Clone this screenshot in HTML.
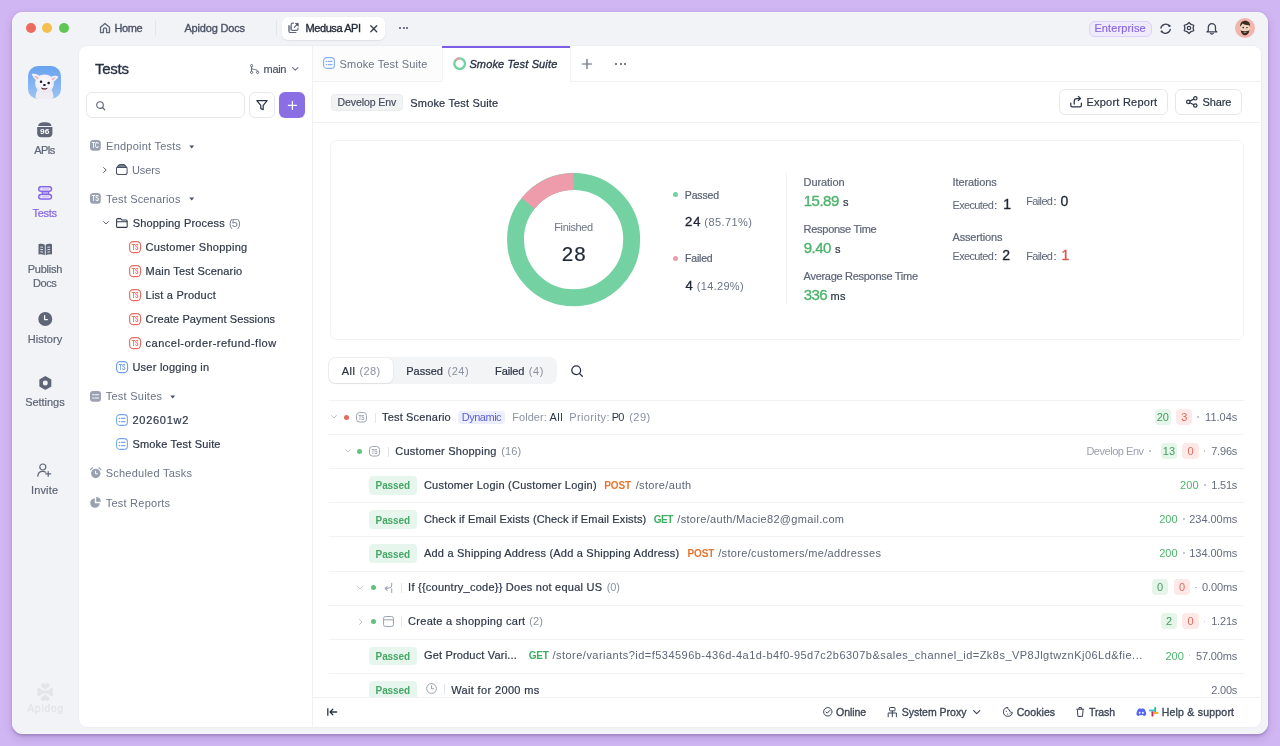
<!DOCTYPE html>
<html><head><meta charset="utf-8"><title>Apidog</title>
<style>
html,body{margin:0;padding:0;}
body{width:1280px;height:746px;overflow:hidden;position:relative;background:#d0b6f2;font-family:"Liberation Sans",sans-serif;}
.t{position:absolute;white-space:nowrap;line-height:1;}
.b{position:absolute;box-sizing:border-box;}
svg.b{overflow:visible;}
</style></head><body>
<div id="root" style="position:absolute;left:0;top:0;width:1280px;height:746px;will-change:transform;">
<div class="b" style="left:12px;top:12px;width:1256px;height:722px;background:#f2f3f7;border-radius:11px;box-shadow:0 1.5px 2.5px rgba(90,70,120,0.30), 0 4px 10px rgba(90,50,150,0.18), 0 0 0 0.5px rgba(255,255,255,0.6) inset;"></div>
<div class="b" style="left:79px;top:46px;width:1182px;height:681px;background:#fff;border-radius:8px;box-shadow:0 0 0 0.5px rgba(0,0,0,0.04);"></div>
<div class="b" style="left:25.6px;top:23.0px;width:10.4px;height:10.4px;border-radius:50%;background:#ed6a5e;"></div>
<div class="b" style="left:42.1px;top:23.0px;width:10.4px;height:10.4px;border-radius:50%;background:#f4bf4f;"></div>
<div class="b" style="left:58.6px;top:23.0px;width:10.4px;height:10.4px;border-radius:50%;background:#61c554;"></div>
<svg class="b" style="left:99.4px;top:22px;" width="12" height="12" viewBox="0 0 12 12" fill="none"><path d="M1.5 5.2 L6 1.4 L10.5 5.2 V10.6 H7.6 V7.4 a1.6 1.6 0 0 0 -3.2 0 V10.6 H1.5 Z" stroke="#5f6779" stroke-width="1.3" stroke-linejoin="round"/></svg>
<div class="t" style="left:114.60px;top:23.00px;font-size:11px;color:#4b5366;letter-spacing:-0.417px;-webkit-text-stroke:0.35px currentColor;">Home</div>
<div class="b" style="left:155px;top:20px;width:1px;height:16px;background:#e3e5ea;"></div>
<div class="t" style="left:184.40px;top:23.00px;font-size:11px;color:#4b5366;letter-spacing:-0.165px;-webkit-text-stroke:0.35px currentColor;">Apidog Docs</div>
<div class="b" style="left:276px;top:20px;width:1px;height:16px;background:#e3e5ea;"></div>
<div class="b" style="left:282px;top:17px;width:103px;height:23px;background:#fff;border-radius:6px;box-shadow:0 0.5px 1.5px rgba(0,0,0,0.08);"></div>
<svg class="b" style="left:288px;top:22px;" width="12" height="12" viewBox="0 0 12 12" fill="none"><path d="M0.9 3.6 H3.2 V8.4 H0.9 Z" fill="#b9bec9"/><path d="M0.9 3.6 V8.9 C0.9 9.8 1.6 10.5 2.5 10.5 H7.9" stroke="#5f6779" stroke-width="1.2" stroke-linecap="round"/><path d="M5.4 1.2 H4.8 C3.9 1.2 3.2 1.9 3.2 2.8 V6.9 C3.2 7.8 3.9 8.4 4.8 8.4 H8.5 C9.4 8.4 10 7.8 10 6.9 V6.2" stroke="#5f6779" stroke-width="1.2" stroke-linecap="round"/><path d="M6.3 5.3 L8.9 2.7" stroke="#5f6779" stroke-width="1.2" stroke-linecap="round"/><path d="M7.2 1.3 H10.3 V4.4 Z" fill="#4a5265" stroke="#4a5265" stroke-width="0.6" stroke-linejoin="round"/></svg>
<div class="t" style="left:305.50px;top:23.00px;font-size:11px;color:#1f2736;letter-spacing:-0.417px;-webkit-text-stroke:0.35px currentColor;">Medusa API</div>
<svg class="b" style="left:369.5px;top:24.5px;" width="7.5" height="7.5" viewBox="0 0 7.5 7.5" fill="none"><path d="M0.8 0.8 L6.7 6.7 M6.7 0.8 L0.8 6.7" stroke="#3a4252" stroke-width="1.4" stroke-linecap="round"/></svg>
<div class="b" style="left:399.0px;top:27px;width:2.2px;height:2.2px;border-radius:50%;background:#4b5366;"></div>
<div class="b" style="left:402.5px;top:27px;width:2.2px;height:2.2px;border-radius:50%;background:#4b5366;"></div>
<div class="b" style="left:406.0px;top:27px;width:2.2px;height:2.2px;border-radius:50%;background:#4b5366;"></div>
<div class="b" style="left:1088.5px;top:20.5px;width:63.5px;height:16px;background:#f0eafd;border:1px solid #ddd0fa;border-radius:6px;"></div>
<div class="t" style="left:1094.40px;top:23.00px;font-size:11px;color:#8a68e4;letter-spacing:0.128px;-webkit-text-stroke:0.2px currentColor;">Enterprise</div>
<svg class="b" style="left:1159.8px;top:22.8px;" width="11" height="11.5" viewBox="0 0 11 11.5" fill="none"><path d="M9.6 3 A4.9 4.9 0 0 0 0.9 5.2" stroke="#3a4252" stroke-width="1.3" stroke-linecap="round"/><path d="M1.6 8.4 A4.9 4.9 0 0 0 10.3 6.3" stroke="#3a4252" stroke-width="1.3" stroke-linecap="round"/><circle cx="9.4" cy="2.9" r="1.1" fill="#3a4252"/><circle cx="1.7" cy="8.5" r="1.1" fill="#3a4252"/></svg>
<svg class="b" style="left:1182.5px;top:22.2px;" width="12" height="12" viewBox="0 0 12 12" fill="none"><path d="M6.00 0.50 L8.05 2.45 L10.76 3.25 L10.10 6.00 L10.76 8.75 L8.05 9.55 L6.00 11.50 L3.95 9.55 L1.24 8.75 L1.90 6.00 L1.24 3.25 L3.95 2.45 Z" stroke="#3a4252" stroke-width="1.25" stroke-linejoin="round"/><circle cx="6" cy="6" r="1.7" stroke="#3a4252" stroke-width="1.2"/></svg>
<svg class="b" style="left:1206.2px;top:22px;" width="11.8" height="12.6" viewBox="0 0 11.8 12.6" fill="none"><path d="M2.3 8.6 V5.3 a3.6 3.6 0 0 1 7.2 0 V8.6 L10.9 9.9 H0.9 Z" stroke="#3a4252" stroke-width="1.25" stroke-linejoin="round"/><path d="M4.5 11.3 a1.5 1.2 0 0 0 2.8 0" stroke="#3a4252" stroke-width="1.25" stroke-linecap="round"/></svg>
<svg class="b" style="left:1235px;top:18px;" width="20" height="20" viewBox="0 0 20 20" fill="none"><circle cx="10" cy="10" r="10" fill="#f2b5ad"/><path d="M5.2 8.2 C5 4.5 7.5 3.2 10.2 3.3 C13.3 3.3 15.2 5 14.8 8.5 L14.6 12.5 C14 15.8 12 17 10 17 C7.8 17 6 15.8 5.5 12.5 Z" fill="#f0d6bf"/><path d="M5.2 8.8 C4.8 4.6 7.4 2.6 10.3 2.7 C13.4 2.8 15.6 4.6 15 9 L14.3 7.2 C12 7.4 9 6.6 7.6 5.6 C7 6.8 6.2 7.6 5.2 8.8 Z" fill="#3b2a20"/><path d="M5.6 11.8 C6.2 16 8 17.3 10 17.3 C12 17.3 14 16 14.5 11.8 C13.5 13.4 12 13 10 13 C8 13 6.6 13.4 5.6 11.8 Z" fill="#3b2a20"/><circle cx="8.2" cy="9.6" r="0.8" fill="#222"/><path d="M11 9.7 h1.8" stroke="#222" stroke-width="0.8"/><path d="M8.6 14.2 h2.8" stroke="#fff" stroke-width="0.7"/></svg>
<svg class="b" style="left:28.3px;top:66.2px;" width="33" height="33" viewBox="0 0 33 33" fill="none"><defs><linearGradient id="dg" x1="0" y1="0" x2="0" y2="1"><stop offset="0" stop-color="#68a2ee"/><stop offset="1" stop-color="#9cc3f4"/></linearGradient><radialGradient id="fur" cx="0.5" cy="0.4" r="0.6"><stop offset="0" stop-color="#fbfaff"/><stop offset="0.8" stop-color="#f1eef5"/><stop offset="1" stop-color="#e6e2ee"/></radialGradient><clipPath id="dc"><rect width="33" height="33" rx="10"/></clipPath></defs><rect width="33" height="33" rx="10" fill="url(#dg)"/><g clip-path="url(#dc)"><path d="M7.5 34 C7.5 29 8 26 10 23 L23 23 C25 26 25.5 29 25.5 34 Z" fill="#efecf3"/><path d="M3.6 8 C6.5 7.2 9.5 8 12 10.2 L11 16 C7.5 14.5 5 11.5 3.6 8 Z" fill="#f3f0f5"/><path d="M30.4 10.4 C27.6 9.4 24.6 9.6 22 11.4 L22.6 17 C26.2 15.8 28.8 13.6 30.4 10.4 Z" fill="#f3f0f5"/><path d="M16.6 8.6 C21.6 8.6 25.4 12 25.8 16.6 C26.2 21.6 23.4 26.6 16.6 26.8 C9.8 26.6 6.8 21.6 7.2 16.6 C7.6 12 11.6 8.6 16.6 8.6 Z" fill="url(#fur)"/><path d="M6.2 10 C7.8 9.8 9.4 10.4 10.6 11.6 L9.8 13.8 C8.4 12.8 7.1 11.5 6.2 10 Z" fill="#efb3c0"/><path d="M27.8 11.6 C26.4 11.2 24.9 11.5 23.8 12.4 L24.2 14.6 C25.6 13.8 26.9 12.8 27.8 11.6 Z" fill="#efb3c0"/><circle cx="13" cy="15.7" r="1.25" fill="#15151a"/><circle cx="20.6" cy="16.9" r="1.25" fill="#15151a"/><ellipse cx="16.4" cy="19" rx="1.45" ry="1.05" fill="#1a1a1f"/><path d="M12.9 21.6 C14 24.6 18.6 24.8 19.6 21.8 C17.6 22.6 14.8 22.5 12.9 21.6 Z" fill="#2a2226"/><path d="M14.4 22.4 C15 24.2 17.6 24.3 18.2 22.5 C16.9 22.8 15.6 22.8 14.4 22.4 Z" fill="#ee8aa0"/></g></svg>
<svg class="b" style="left:37.2px;top:122px;" width="15.6" height="15.6" viewBox="0 0 15.6 15.6" fill="none"><path d="M1.2 3.9 C1.2 1.6 3.3 0.2 7.8 0.2 C12.3 0.2 14.4 1.6 14.4 3.9 Z" fill="#5d6576"/><path d="M0.2 5 H15.4 V11.5 C15.4 13.8 13.8 15.3 11.5 15.3 H4.1 C1.8 15.3 0.2 13.8 0.2 11.5 Z" fill="#5d6576"/><text x="3.1" y="12.4" font-family="Liberation Sans" font-weight="bold" font-size="8" fill="#fff" textLength="9.3" lengthAdjust="spacingAndGlyphs">96</text></svg>
<div class="t" style="left:34.30px;top:145.00px;font-size:11px;color:#5d6576;letter-spacing:-0.750px;-webkit-text-stroke:0.2px currentColor;">APIs</div>
<svg class="b" style="left:37.8px;top:186.2px;" width="14.2" height="13.8" viewBox="0 0 14.2 13.8" fill="none"><path d="M3.9 4.9 H10.3 L11 9 H4.6 Z" fill="#b6a6f1"/><path d="M3.9 4.9 L4.6 9 M10.3 4.9 L11 9" stroke="#8463e6" stroke-width="1.2"/><rect x="0.75" y="0.75" width="12.7" height="4.5" rx="2.25" fill="#fff" stroke="#8463e6" stroke-width="1.5"/><rect x="0.75" y="8.55" width="12.7" height="4.5" rx="2.25" fill="#fff" stroke="#8463e6" stroke-width="1.5"/><rect x="2" y="2.3" width="1.2" height="1.4" fill="#c6baf4"/><rect x="3.9" y="2.3" width="7.6" height="1.4" fill="#c6baf4"/><rect x="2" y="10.1" width="1.2" height="1.4" fill="#c6baf4"/><rect x="3.9" y="10.1" width="7.6" height="1.4" fill="#c6baf4"/></svg>
<div class="t" style="left:32.50px;top:208.00px;font-size:11px;color:#8463e6;letter-spacing:-0.312px;-webkit-text-stroke:0.2px currentColor;">Tests</div>
<svg class="b" style="left:37.5px;top:242.5px;" width="14.5" height="12.5" viewBox="0 0 14.5 12.5" fill="none"><path d="M0.5 1.2 C2.8 0.6 5 0.8 6.8 1.8 V12.2 C5 11.3 2.8 11.1 0.5 11.6 Z" fill="#5d6576"/><path d="M14 1.2 C11.7 0.6 9.5 0.8 7.7 1.8 V12.2 C9.5 11.3 11.7 11.1 14 11.6 Z" fill="#5d6576"/><path d="M2.3 4 L5 4.3 M2.3 6.4 L5 6.7 M2.3 8.8 L5 9.1 M9.4 4.3 L12.1 4 M9.4 6.7 L12.1 6.4 M9.4 9.1 L12.1 8.8" stroke="#f2f3f7" stroke-width="0.9"/></svg>
<div class="t" style="left:27.80px;top:264.30px;font-size:11px;color:#5d6576;letter-spacing:-0.267px;-webkit-text-stroke:0.2px currentColor;">Publish</div>
<div class="t" style="left:33.10px;top:277.80px;font-size:11px;color:#5d6576;letter-spacing:-0.500px;-webkit-text-stroke:0.2px currentColor;">Docs</div>
<svg class="b" style="left:37.5px;top:312.3px;" width="14.5" height="14" viewBox="0 0 14.5 14" fill="none"><circle cx="7.25" cy="7" r="7" fill="#5d6576"/><path d="M6.6 3.6 V7.6 H9.4" stroke="#f2f3f7" stroke-width="1.3" stroke-linecap="round" stroke-linejoin="round"/></svg>
<div class="t" style="left:27.80px;top:334.40px;font-size:11px;color:#5d6576;letter-spacing:0.025px;-webkit-text-stroke:0.2px currentColor;">History</div>
<svg class="b" style="left:38.8px;top:375.7px;" width="12.7" height="13.8" viewBox="0 0 12.7 13.8" fill="none"><path d="M6.35 0.8 L11.6 3.8 V10 L6.35 13 L1.1 10 V3.8 Z" fill="#5d6576" stroke="#5d6576" stroke-width="1.5" stroke-linejoin="round"/><circle cx="6.35" cy="6.9" r="2.5" fill="#f2f3f7"/></svg>
<div class="t" style="left:25.20px;top:397.30px;font-size:11px;color:#5d6576;letter-spacing:-0.036px;-webkit-text-stroke:0.2px currentColor;">Settings</div>
<svg class="b" style="left:37.3px;top:462.5px;" width="14.5" height="14" viewBox="0 0 14.5 14" fill="none"><circle cx="5.8" cy="4" r="3" stroke="#5d6576" stroke-width="1.2"/><path d="M0.8 13.2 C1 9.8 3 8.4 5.8 8.4 C7 8.4 8 8.7 8.7 9.2" stroke="#5d6576" stroke-width="1.2" stroke-linecap="round"/><path d="M11.2 8.5 V13.3 M8.8 10.9 H13.6" stroke="#5d6576" stroke-width="1.2" stroke-linecap="round"/></svg>
<div class="t" style="left:31.00px;top:484.70px;font-size:11px;color:#5d6576;letter-spacing:0.150px;-webkit-text-stroke:0.2px currentColor;">Invite</div>
<svg class="b" style="left:36.9px;top:683.8px;" width="16.3" height="16.2" viewBox="0 0 16.3 16.2" fill="none"><g fill="#e3e4e9"><path d="M8.15 5.6 L4.6 3 A2.15 2.15 0 1 1 8.15 0.9 A2.15 2.15 0 1 1 11.7 3 Z"/><path d="M8.15 10.6 L4.6 13.2 A2.15 2.15 0 1 0 8.15 15.3 A2.15 2.15 0 1 0 11.7 13.2 Z"/><path d="M1.6 4.6 Q8.15 9.4 14.7 4.6 L15.6 6.8 Q13.6 8.1 15.6 9.4 L14.7 11.6 Q8.15 6.8 1.6 11.6 L0.7 9.4 Q2.7 8.1 0.7 6.8 Z"/><circle cx="1.9" cy="5.9" r="1.85"/><circle cx="1.9" cy="10.3" r="1.85"/><circle cx="14.4" cy="5.9" r="1.85"/><circle cx="14.4" cy="10.3" r="1.85"/></g></svg>
<div class="t" style="left:27.50px;top:704.00px;font-size:10px;color:#e3e4e9;letter-spacing:0.870px;-webkit-text-stroke:0.35px currentColor;">Apidog</div>
<div class="b" style="left:312px;top:46px;width:1px;height:681px;background:#eff1f4;"></div>
<div class="t" style="left:94.90px;top:61.20px;font-size:15px;color:#2b3445;letter-spacing:-0.250px;-webkit-text-stroke:0.35px currentColor;">Tests</div>
<svg class="b" style="left:250px;top:64px;" width="9" height="10" viewBox="0 0 9 10" fill="none"><circle cx="1.6" cy="1.6" r="1.1" stroke="#5d6576" stroke-width="1"/><circle cx="1.6" cy="8.4" r="1.1" stroke="#5d6576" stroke-width="1"/><circle cx="7.6" cy="8.4" r="1.1" stroke="#5d6576" stroke-width="1"/><path d="M1.6 2.7 V7.3 M1.6 4.2 C1.6 5.8 7.6 5 7.6 7.3" stroke="#5d6576" stroke-width="1"/></svg>
<div class="t" style="left:263.60px;top:63.70px;font-size:11px;color:#4b5366;letter-spacing:-0.350px;-webkit-text-stroke:0.2px currentColor;">main</div>
<svg class="b" style="left:292px;top:67px;" width="6.5" height="4" viewBox="0 0 6.5 4" fill="none"><path d="M0.6 0.6 L3.25 3.2 L5.9 0.6" stroke="#6b7385" stroke-width="1.1" stroke-linecap="round" stroke-linejoin="round"/></svg>
<div class="b" style="left:86.3px;top:92.2px;width:158.5px;height:26.3px;border:1px solid #e6e8ec;border-radius:6px;background:#fff;"></div>
<svg class="b" style="left:96.3px;top:101.3px;" width="9.5" height="9.5" viewBox="0 0 9.5 9.5" fill="none"><circle cx="4" cy="4" r="3.3" stroke="#5d6576" stroke-width="1.15"/><path d="M6.5 6.5 L8.8 8.8" stroke="#5d6576" stroke-width="1.15" stroke-linecap="round"/></svg>
<div class="b" style="left:248.6px;top:92.2px;width:26px;height:26.3px;border:1px solid #e6e8ec;border-radius:6px;background:#fff;"></div>
<svg class="b" style="left:255.8px;top:100.4px;" width="12" height="10.2" viewBox="0 0 12 10.2" fill="none"><path d="M0.8 0.7 H11.2 L7.2 5.4 V9.6 L4.8 8.6 V5.4 Z" stroke="#2b3445" stroke-width="1.2" stroke-linejoin="round"/></svg>
<div class="b" style="left:278.8px;top:92.2px;width:26px;height:26.3px;border-radius:6px;background:#8a6ee4;"></div>
<svg class="b" style="left:287.5px;top:101.4px;" width="8.8" height="8.8" viewBox="0 0 8.8 8.8" fill="none"><path d="M4.4 0.4 V8.4 M0.4 4.4 H8.4" stroke="#fff" stroke-width="1.2" stroke-linecap="round"/></svg>
<svg class="b" style="left:90.2px;top:140.1px;" width="10.8" height="10.8" viewBox="0 0 10.8 10.8" fill="none"><rect x="0" y="0" width="10.8" height="10.8" rx="3.24" fill="#9aa1b0"/><text x="1.84" y="8.21" font-family="Liberation Sans" font-weight="bold" font-size="8.14" fill="#fff" textLength="7.13" lengthAdjust="spacingAndGlyphs">TC</text></svg>
<div class="t" style="left:106.10px;top:140.80px;font-size:11px;color:#6b7385;letter-spacing:0.231px;">Endpoint Tests</div>
<svg class="b" style="left:189px;top:144.6px;" width="5.5" height="4" viewBox="0 0 5.5 4" fill="none"><path d="M0.3 0.5 H5.2 L2.75 3.5 Z" fill="#4b5366"/></svg>
<svg class="b" style="left:103.4px;top:166.8px;" width="4" height="6" viewBox="0 0 4 6" fill="none"><path d="M0.6 0.6 L3.2 3 L0.6 5.4" stroke="#5d6576" stroke-width="1" stroke-linecap="round" stroke-linejoin="round"/></svg>
<svg class="b" style="left:116px;top:164px;" width="11.6" height="11.2" viewBox="0 0 11.6 11.2" fill="none"><path d="M3.8 0.6 H7.8 C8.2 0.6 8.5 0.8 8.8 1.1 L10.7 3.3 C11 3.7 11.1 4.2 11.1 4.8 V8.4 C11.1 9.7 10.2 10.6 8.9 10.6 H2.7 C1.4 10.6 0.5 9.7 0.5 8.4 V4.8 C0.5 4.2 0.6 3.7 0.9 3.3 L2.8 1.1 C3.1 0.8 3.4 0.6 3.8 0.6 Z M1 3.4 H10.6 M2.4 1.9 H9.2" stroke="#4b5366" stroke-width="1.05" stroke-linejoin="round"/></svg>
<div class="t" style="left:131.90px;top:164.90px;font-size:11px;color:#6b7385;letter-spacing:-0.062px;">Users</div>
<svg class="b" style="left:89.8px;top:193.3px;" width="10.8" height="10.8" viewBox="0 0 10.8 10.8" fill="none"><rect x="0" y="0" width="10.8" height="10.8" rx="3.24" fill="#9aa1b0"/><text x="1.84" y="8.21" font-family="Liberation Sans" font-weight="bold" font-size="8.14" fill="#fff" textLength="7.13" lengthAdjust="spacingAndGlyphs">TS</text></svg>
<div class="t" style="left:106.10px;top:193.50px;font-size:11px;color:#6b7385;letter-spacing:0.165px;">Test Scenarios</div>
<svg class="b" style="left:189px;top:197.2px;" width="5.5" height="4" viewBox="0 0 5.5 4" fill="none"><path d="M0.3 0.5 H5.2 L2.75 3.5 Z" fill="#4b5366"/></svg>
<svg class="b" style="left:102.6px;top:220.6px;" width="6" height="4" viewBox="0 0 6 4" fill="none"><path d="M0.6 0.6 L3 3 L5.4 0.6" stroke="#5d6576" stroke-width="1" stroke-linecap="round" stroke-linejoin="round"/></svg>
<svg class="b" style="left:116.2px;top:218.2px;" width="12.2" height="10" viewBox="0 0 12.2 10" fill="none"><path d="M0.6 8.4 V1.8 C0.6 1.1 1.1 0.6 1.8 0.6 H4.6 L5.8 2 H10 C10.7 2 11.2 2.5 11.2 3.2 V8.4 C11.2 9 10.7 9.4 10 9.4 H1.8 C1.1 9.4 0.6 9 0.6 8.4 Z M0.6 3.8 H11.2" stroke="#2e3748" stroke-width="1.05" stroke-linejoin="round"/></svg>
<div class="t" style="left:132.70px;top:218.20px;font-size:11px;color:#2e3748;letter-spacing:0.183px;-webkit-text-stroke:0.2px currentColor;">Shopping Process</div>
<div class="t" style="left:229.10px;top:218.20px;font-size:11px;color:#7a8192;letter-spacing:-0.900px;">(5)</div>
<svg class="b" style="left:129.3px;top:241.0px;" width="12.2" height="12.2" viewBox="0 0 12.2 12.2" fill="none"><rect x="0.6" y="0.6" width="11.0" height="11.0" rx="3.66" stroke="#e56e63" stroke-width="1.15"/><text x="2.68" y="8.97" font-family="Liberation Sans" font-weight="bold" font-size="8.31" fill="#e56e63" textLength="6.83" lengthAdjust="spacingAndGlyphs">TS</text></svg>
<div class="t" style="left:145.60px;top:242.10px;font-size:11px;color:#2e3748;letter-spacing:0.272px;-webkit-text-stroke:0.2px currentColor;">Customer Shopping</div>
<svg class="b" style="left:129.3px;top:265.0px;" width="12.2" height="12.2" viewBox="0 0 12.2 12.2" fill="none"><rect x="0.6" y="0.6" width="11.0" height="11.0" rx="3.66" stroke="#e56e63" stroke-width="1.15"/><text x="2.68" y="8.97" font-family="Liberation Sans" font-weight="bold" font-size="8.31" fill="#e56e63" textLength="6.83" lengthAdjust="spacingAndGlyphs">TS</text></svg>
<div class="t" style="left:145.60px;top:266.10px;font-size:11px;color:#2e3748;letter-spacing:0.191px;-webkit-text-stroke:0.2px currentColor;">Main Test Scenario</div>
<svg class="b" style="left:129.3px;top:288.9px;" width="12.2" height="12.2" viewBox="0 0 12.2 12.2" fill="none"><rect x="0.6" y="0.6" width="11.0" height="11.0" rx="3.66" stroke="#e56e63" stroke-width="1.15"/><text x="2.68" y="8.97" font-family="Liberation Sans" font-weight="bold" font-size="8.31" fill="#e56e63" textLength="6.83" lengthAdjust="spacingAndGlyphs">TS</text></svg>
<div class="t" style="left:145.60px;top:290.00px;font-size:11px;color:#2e3748;letter-spacing:0.219px;-webkit-text-stroke:0.2px currentColor;">List a Product</div>
<svg class="b" style="left:129.3px;top:312.9px;" width="12.2" height="12.2" viewBox="0 0 12.2 12.2" fill="none"><rect x="0.6" y="0.6" width="11.0" height="11.0" rx="3.66" stroke="#e56e63" stroke-width="1.15"/><text x="2.68" y="8.97" font-family="Liberation Sans" font-weight="bold" font-size="8.31" fill="#e56e63" textLength="6.83" lengthAdjust="spacingAndGlyphs">TS</text></svg>
<div class="t" style="left:145.60px;top:314.00px;font-size:11px;color:#2e3748;letter-spacing:0.107px;-webkit-text-stroke:0.2px currentColor;">Create Payment Sessions</div>
<svg class="b" style="left:129.3px;top:336.9px;" width="12.2" height="12.2" viewBox="0 0 12.2 12.2" fill="none"><rect x="0.6" y="0.6" width="11.0" height="11.0" rx="3.66" stroke="#e56e63" stroke-width="1.15"/><text x="2.68" y="8.97" font-family="Liberation Sans" font-weight="bold" font-size="8.31" fill="#e56e63" textLength="6.83" lengthAdjust="spacingAndGlyphs">TS</text></svg>
<div class="t" style="left:145.60px;top:338.00px;font-size:11px;color:#2e3748;letter-spacing:0.493px;-webkit-text-stroke:0.2px currentColor;">cancel-order-refund-flow</div>
<svg class="b" style="left:116.1px;top:360.9px;" width="12.2" height="12.2" viewBox="0 0 12.2 12.2" fill="none"><rect x="0.6" y="0.6" width="11.0" height="11.0" rx="3.66" stroke="#6f9ff0" stroke-width="1.15"/><text x="2.68" y="8.97" font-family="Liberation Sans" font-weight="bold" font-size="8.31" fill="#6f9ff0" textLength="6.83" lengthAdjust="spacingAndGlyphs">TS</text></svg>
<div class="t" style="left:132.40px;top:362.00px;font-size:11px;color:#2e3748;letter-spacing:0.243px;-webkit-text-stroke:0.2px currentColor;">User logging in</div>
<svg class="b" style="left:89.8px;top:391px;" width="11" height="10.8" viewBox="0 0 11 10.8" fill="none"><rect x="0" y="0" width="11" height="10.8" rx="3" fill="#9aa1b0"/><path d="M2.6 3.8 h1 M4.8 3.8 h3.8 M2.6 7 h1 M4.8 7 h3.8" stroke="#fff" stroke-width="1.1" stroke-linecap="round"/></svg>
<div class="t" style="left:105.70px;top:391.20px;font-size:11px;color:#6b7385;letter-spacing:0.255px;">Test Suites</div>
<svg class="b" style="left:170.2px;top:394.8px;" width="5.5" height="4" viewBox="0 0 5.5 4" fill="none"><path d="M0.3 0.5 H5.2 L2.75 3.5 Z" fill="#4b5366"/></svg>
<svg class="b" style="left:116.2px;top:413.6px;" width="12" height="12" viewBox="0 0 12 12" fill="none"><rect x="0.6" y="0.6" width="10.8" height="10.8" rx="3.2" stroke="#7aa7f2" stroke-width="1.1"/><path d="M3.2 4.4 h0.6 M5.4 4.4 h3.6 M3.2 7.6 h0.6 M5.4 7.6 h3.6" stroke="#7aa7f2" stroke-width="1.1" stroke-linecap="round"/></svg>
<div class="t" style="left:132.40px;top:415.20px;font-size:11px;color:#2e3748;letter-spacing:0.750px;-webkit-text-stroke:0.2px currentColor;">202601w2</div>
<svg class="b" style="left:116.2px;top:437.8px;" width="12" height="12" viewBox="0 0 12 12" fill="none"><rect x="0.6" y="0.6" width="10.8" height="10.8" rx="3.2" stroke="#7aa7f2" stroke-width="1.1"/><path d="M3.2 4.4 h0.6 M5.4 4.4 h3.6 M3.2 7.6 h0.6 M5.4 7.6 h3.6" stroke="#7aa7f2" stroke-width="1.1" stroke-linecap="round"/></svg>
<div class="t" style="left:132.40px;top:439.40px;font-size:11px;color:#2e3748;letter-spacing:0.180px;-webkit-text-stroke:0.2px currentColor;">Smoke Test Suite</div>
<svg class="b" style="left:89.6px;top:467.2px;" width="11" height="11.5" viewBox="0 0 11 11.5" fill="none"><circle cx="5.75" cy="6.5" r="4.7" fill="#9aa1b0"/><path d="M0.6 2.6 L2.6 0.8 M10.9 2.6 L8.9 0.8" stroke="#9aa1b0" stroke-width="1.2" stroke-linecap="round"/><path d="M5.6 4.2 V6.8 H7.4" stroke="#fff" stroke-width="1" stroke-linecap="round"/></svg>
<div class="t" style="left:105.70px;top:468.40px;font-size:11px;color:#6b7385;letter-spacing:0.236px;">Scheduled Tasks</div>
<svg class="b" style="left:89.8px;top:497px;" width="11" height="11" viewBox="0 0 11 11" fill="none"><path d="M4.8 1.2 A4.8 4.8 0 1 0 9.8 6.2 H4.8 Z" fill="#9aa1b0"/><path d="M6.2 0 A4.8 4.8 0 0 1 11 4.8 H6.2 Z" fill="#9aa1b0"/></svg>
<div class="t" style="left:105.70px;top:497.90px;font-size:11px;color:#6b7385;letter-spacing:0.241px;">Test Reports</div>
<div class="b" style="left:313px;top:81px;width:129.5px;height:1px;background:#f0f1f4;"></div>
<div class="b" style="left:570px;top:81px;width:691px;height:1px;background:#f0f1f4;"></div>
<div class="b" style="left:313px;top:46px;width:129.5px;height:35px;background:#fcfcfd;"></div>
<div class="b" style="left:442px;top:46px;width:128.5px;height:36px;background:#fff;border-left:1px solid #f2f3f6;border-right:1px solid #f2f3f6;"></div>
<div class="b" style="left:442px;top:46px;width:128px;height:2px;background:#7b5de8;"></div>
<svg class="b" style="left:323.2px;top:57.3px;" width="12" height="12" viewBox="0 0 12 12" fill="none"><rect x="0.6" y="0.6" width="10.8" height="10.8" rx="3.2" stroke="#86aff5" stroke-width="1.1"/><path d="M3.2 4.4 h0.6 M5.4 4.4 h3.6 M3.2 7.6 h0.6 M5.4 7.6 h3.6" stroke="#86aff5" stroke-width="1.1" stroke-linecap="round"/></svg>
<div class="t" style="left:339.60px;top:59.00px;font-size:11px;color:#6b7385;letter-spacing:0.160px;">Smoke Test Suite</div>
<svg class="b" style="left:452.5px;top:57.3px;" width="13.3" height="13.3" viewBox="0 0 13.3 13.3" fill="none"><circle cx="6.65" cy="6.65" r="5.3" stroke="#6fd19e" stroke-width="2.3"/><path d="M6.65 1.35 A5.3 5.3 0 0 0 2.51 3.35" stroke="#ee9aa8" stroke-width="2.3"/></svg>
<div class="t" style="left:469.40px;top:59.00px;font-size:11px;color:#2b3445;font-style:italic;letter-spacing:0.137px;-webkit-text-stroke:0.35px currentColor;">Smoke Test Suite</div>
<svg class="b" style="left:582.4px;top:59px;" width="10" height="10" viewBox="0 0 10 10" fill="none"><path d="M5 0.4 V9.6 M0.4 5 H9.6" stroke="#5d6576" stroke-width="1.2" stroke-linecap="round"/></svg>
<div class="b" style="left:615.1px;top:62.6px;width:2.3px;height:2.3px;border-radius:50%;background:#4b5366;"></div>
<div class="b" style="left:619.5px;top:62.6px;width:2.3px;height:2.3px;border-radius:50%;background:#4b5366;"></div>
<div class="b" style="left:623.9px;top:62.6px;width:2.3px;height:2.3px;border-radius:50%;background:#4b5366;"></div>
<div class="b" style="left:331.3px;top:93.5px;width:71.3px;height:17.5px;background:#f2f3f5;border:1px solid #e9ebee;border-radius:4px;"></div>
<div class="t" style="left:337.60px;top:97.20px;font-size:10.5px;color:#464e5f;letter-spacing:-0.100px;-webkit-text-stroke:0.2px currentColor;">Develop Env</div>
<div class="t" style="left:410.30px;top:97.50px;font-size:11px;color:#2b3445;letter-spacing:0.167px;-webkit-text-stroke:0.2px currentColor;">Smoke Test Suite</div>
<div class="b" style="left:1058.5px;top:89px;width:109px;height:26.3px;border:1px solid #e6e8ec;border-radius:6px;background:#fff;"></div>
<svg class="b" style="left:1070px;top:96.2px;" width="12.2" height="11.8" viewBox="0 0 12.2 11.8" fill="none"><path d="M0.8 7.1 V9.4 C0.8 10.2 1.4 10.8 2.2 10.8 H10 C10.8 10.8 11.4 10.2 11.4 9.4 V7.1" stroke="#2b3445" stroke-width="1.25" stroke-linecap="round"/><path d="M4.2 8.1 V5.3 C4.2 3.5 5 2.5 7 2.5 H10.4 M8.3 0.4 L10.5 2.5 L8.3 4.6" stroke="#2b3445" stroke-width="1.25" stroke-linecap="round" stroke-linejoin="round"/></svg>
<div class="t" style="left:1086.40px;top:97.20px;font-size:11px;color:#2b3445;letter-spacing:0.237px;-webkit-text-stroke:0.2px currentColor;">Export Report</div>
<div class="b" style="left:1174.7px;top:89px;width:67.6px;height:26.3px;border:1px solid #e6e8ec;border-radius:6px;background:#fff;"></div>
<svg class="b" style="left:1186.2px;top:96.2px;" width="11.6" height="11.8" viewBox="0 0 11.6 11.8" fill="none"><circle cx="9.3" cy="2.3" r="1.7" stroke="#2b3445" stroke-width="1.2"/><circle cx="2.3" cy="5.9" r="1.7" stroke="#2b3445" stroke-width="1.2"/><circle cx="9.3" cy="9.5" r="1.7" stroke="#2b3445" stroke-width="1.2"/><path d="M3.8 5.1 L7.8 3.1 M3.8 6.7 L7.8 8.7" stroke="#2b3445" stroke-width="1.2"/></svg>
<div class="t" style="left:1202.60px;top:97.20px;font-size:11px;color:#2b3445;letter-spacing:-0.138px;-webkit-text-stroke:0.2px currentColor;">Share</div>
<div class="b" style="left:313px;top:122px;width:947px;height:1px;background:#eff1f4;"></div>
<div class="b" style="left:329.5px;top:139.5px;width:914px;height:200.3px;border:1px solid #f2f3f6;border-radius:7px;"></div>
<svg class="b" style="left:506.7px;top:173.2px;" width="133.2" height="133.2" viewBox="0 0 133.2 133.2" fill="none"><circle cx="66.6" cy="66.6" r="58.1" stroke="#74d1a1" stroke-width="16.9"/><path d="M66.6 8.5 A58.1 58.1 0 0 0 21.18 30.37" stroke="#ee9cab" stroke-width="16.9"/></svg>
<div class="t" style="left:554.30px;top:221.50px;font-size:11px;color:#6b7385;letter-spacing:-0.400px;">Finished</div>
<div class="t" style="left:561.80px;top:243.50px;font-size:20.5px;color:#1f2736;letter-spacing:0.950px;-webkit-text-stroke:0.2px currentColor;">28</div>
<div class="b" style="left:673.3px;top:192px;width:5px;height:5px;border-radius:50%;background:#74d1a1;"></div>
<div class="t" style="left:684.80px;top:189.60px;font-size:10.5px;color:#596174;letter-spacing:-0.160px;-webkit-text-stroke:0.2px currentColor;">Passed</div>
<div class="t" style="left:685.00px;top:214.80px;font-size:13px;color:#1f2736;letter-spacing:0.900px;-webkit-text-stroke:0.35px currentColor;">24</div>
<div class="t" style="left:704.30px;top:216.80px;font-size:11px;color:#6b7385;letter-spacing:0.421px;">(85.71%)</div>
<div class="b" style="left:673.3px;top:256px;width:5px;height:5px;border-radius:50%;background:#ee9cab;"></div>
<div class="t" style="left:685.00px;top:253.40px;font-size:10.5px;color:#596174;letter-spacing:-0.180px;-webkit-text-stroke:0.2px currentColor;">Failed</div>
<div class="t" style="left:685.40px;top:278.60px;font-size:13px;color:#1f2736;-webkit-text-stroke:0.35px currentColor;">4</div>
<div class="t" style="left:696.80px;top:280.60px;font-size:11px;color:#6b7385;letter-spacing:0.307px;">(14.29%)</div>
<div class="b" style="left:786px;top:173px;width:1px;height:131px;background:#eff1f4;"></div>
<div class="t" style="left:803.60px;top:177.30px;font-size:11px;color:#5d6576;letter-spacing:-0.086px;-webkit-text-stroke:0.2px currentColor;">Duration</div>
<div class="t" style="left:803.80px;top:192.70px;font-size:15px;color:#4cb36b;letter-spacing:-0.525px;-webkit-text-stroke:0.35px currentColor;">15.89</div>
<div class="t" style="left:843.00px;top:196.70px;font-size:11px;color:#2b3445;-webkit-text-stroke:0.2px currentColor;">s</div>
<div class="t" style="left:803.60px;top:224.20px;font-size:11px;color:#5d6576;letter-spacing:-0.283px;-webkit-text-stroke:0.2px currentColor;">Response Time</div>
<div class="t" style="left:803.80px;top:240.00px;font-size:15px;color:#4cb36b;letter-spacing:-0.550px;-webkit-text-stroke:0.35px currentColor;">9.40</div>
<div class="t" style="left:835.00px;top:244.00px;font-size:11px;color:#2b3445;-webkit-text-stroke:0.2px currentColor;">s</div>
<div class="t" style="left:803.60px;top:271.20px;font-size:11px;color:#5d6576;letter-spacing:-0.292px;-webkit-text-stroke:0.2px currentColor;">Average Response Time</div>
<div class="t" style="left:803.80px;top:286.60px;font-size:15px;color:#4cb36b;letter-spacing:-0.600px;-webkit-text-stroke:0.35px currentColor;">336</div>
<div class="t" style="left:830.60px;top:290.60px;font-size:11px;color:#2b3445;letter-spacing:0.250px;-webkit-text-stroke:0.2px currentColor;">ms</div>
<div class="t" style="left:952.50px;top:177.30px;font-size:11px;color:#5d6576;letter-spacing:-0.117px;-webkit-text-stroke:0.2px currentColor;">Iterations</div>
<div class="t" style="left:952.50px;top:200.00px;font-size:11px;color:#5d6576;letter-spacing:-0.650px;">Executed</div>
<div class="t" style="left:994.30px;top:200.00px;font-size:11px;color:#2b3445;">:</div>
<div class="t" style="left:1003.20px;top:197.00px;font-size:14px;color:#1f2736;-webkit-text-stroke:0.35px currentColor;">1</div>
<div class="t" style="left:1026.30px;top:196.20px;font-size:11px;color:#5d6576;letter-spacing:-0.660px;">Failed</div>
<div class="t" style="left:1053.50px;top:196.20px;font-size:11px;color:#2b3445;">:</div>
<div class="t" style="left:1060.50px;top:193.50px;font-size:14px;color:#1f2736;-webkit-text-stroke:0.35px currentColor;">0</div>
<div class="t" style="left:952.50px;top:231.70px;font-size:11px;color:#5d6576;letter-spacing:-0.161px;-webkit-text-stroke:0.2px currentColor;">Assertions</div>
<div class="t" style="left:952.50px;top:250.70px;font-size:11px;color:#5d6576;letter-spacing:-0.650px;">Executed</div>
<div class="t" style="left:994.30px;top:250.70px;font-size:11px;color:#2b3445;">:</div>
<div class="t" style="left:1002.20px;top:247.70px;font-size:14px;color:#1f2736;-webkit-text-stroke:0.35px currentColor;">2</div>
<div class="t" style="left:1026.30px;top:250.70px;font-size:11px;color:#5d6576;letter-spacing:-0.660px;">Failed</div>
<div class="t" style="left:1053.50px;top:250.70px;font-size:11px;color:#2b3445;">:</div>
<div class="t" style="left:1061.50px;top:247.90px;font-size:14px;color:#e2564b;-webkit-text-stroke:0.35px currentColor;">1</div>
<div class="b" style="left:328.3px;top:356.7px;width:228.7px;height:27px;background:#f3f4f6;border-radius:7px;"></div>
<div class="b" style="left:329.4px;top:357.6px;width:63.7px;height:25.4px;background:#fff;border-radius:6px;box-shadow:0 0 0 0.5px rgba(0,0,0,0.06), 0 1px 1.5px rgba(0,0,0,0.06);"></div>
<div class="t" style="left:341.70px;top:365.80px;font-size:11px;color:#2b3445;letter-spacing:0.475px;-webkit-text-stroke:0.2px currentColor;">All</div>
<div class="t" style="left:359.40px;top:365.80px;font-size:11px;color:#8a91a0;letter-spacing:0.367px;">(28)</div>
<div class="t" style="left:406.20px;top:365.80px;font-size:11px;color:#2b3445;letter-spacing:0.010px;-webkit-text-stroke:0.2px currentColor;">Passed</div>
<div class="t" style="left:447.50px;top:365.80px;font-size:11px;color:#8a91a0;letter-spacing:0.500px;">(24)</div>
<div class="t" style="left:495.10px;top:365.80px;font-size:11px;color:#2b3445;letter-spacing:-0.140px;-webkit-text-stroke:0.2px currentColor;">Failed</div>
<div class="t" style="left:528.80px;top:365.80px;font-size:11px;color:#8a91a0;letter-spacing:0.600px;">(4)</div>
<svg class="b" style="left:570.5px;top:364.8px;" width="12" height="12" viewBox="0 0 12 12" fill="none"><circle cx="5.2" cy="5.2" r="4.4" stroke="#2b3445" stroke-width="1.3"/><path d="M8.4 8.4 L11.3 11.3" stroke="#2b3445" stroke-width="1.3" stroke-linecap="round"/></svg>
<div class="b" style="left:329px;top:400px;width:915px;height:1px;background:#f1f2f5;"></div>
<div class="b" style="left:329px;top:434px;width:915px;height:1px;background:#f1f2f5;"></div>
<div class="b" style="left:329px;top:468px;width:915px;height:1px;background:#f1f2f5;"></div>
<div class="b" style="left:329px;top:502px;width:915px;height:1px;background:#f1f2f5;"></div>
<div class="b" style="left:329px;top:536px;width:915px;height:1px;background:#f1f2f5;"></div>
<div class="b" style="left:329px;top:571px;width:915px;height:1px;background:#f1f2f5;"></div>
<div class="b" style="left:329px;top:605px;width:915px;height:1px;background:#f1f2f5;"></div>
<div class="b" style="left:329px;top:639px;width:915px;height:1px;background:#f1f2f5;"></div>
<div class="b" style="left:329px;top:673px;width:915px;height:1px;background:#f1f2f5;"></div>
<svg class="b" style="left:331.3px;top:415.3px;" width="6" height="3.6" viewBox="0 0 6 3.6" fill="none"><path d="M0.5 0.5 L3 3 L5.5 0.5" stroke="#c2c6ce" stroke-width="1" stroke-linecap="round" stroke-linejoin="round"/></svg>
<div class="b" style="left:344.00px;top:414.90px;width:5.2px;height:5.2px;border-radius:50%;background:#e5695d;"></div>
<svg class="b" style="left:356px;top:412.2px;" width="11" height="10.6" viewBox="0 0 11 10.6" fill="none"><rect x="0.55" y="0.55" width="9.9" height="9.5" rx="2.8" stroke="#9ca2ae" stroke-width="1"/><text x="2.4" y="7.7" font-family="Liberation Sans" font-weight="bold" font-size="7" fill="#9ca2ae" textLength="6.2" lengthAdjust="spacingAndGlyphs">TS</text></svg>
<div class="b" style="left:374.7px;top:412.5px;width:1px;height:10.0px;background:#e3e5ea;"></div>
<div class="t" style="left:382.00px;top:412.00px;font-size:11px;color:#2e3748;letter-spacing:0.171px;-webkit-text-stroke:0.2px currentColor;">Test Scenario</div>
<div class="b" style="left:458.1px;top:411px;width:46.9px;height:12.8px;background:#eceefd;border-radius:3px;"></div>
<div class="t" style="left:461.70px;top:412.00px;font-size:11px;color:#5b62d6;letter-spacing:-0.475px;">Dynamic</div>
<div class="t" style="left:512.30px;top:412.00px;font-size:11px;color:#8a91a0;letter-spacing:0.042px;">Folder:</div>
<div class="t" style="left:549.50px;top:412.00px;font-size:11px;color:#2e3748;letter-spacing:0.425px;">All</div>
<div class="t" style="left:569.30px;top:412.00px;font-size:11px;color:#8a91a0;letter-spacing:0.369px;">Priority:</div>
<div class="t" style="left:611.70px;top:412.00px;font-size:11px;color:#2e3748;letter-spacing:-0.700px;">P0</div>
<div class="t" style="left:629.30px;top:412.00px;font-size:11px;color:#8a91a0;letter-spacing:0.400px;">(29)</div>
<div class="b" style="left:1154.6px;top:409.3px;width:16.4px;height:16.2px;background:#e6f5ea;border-radius:4px;"></div>
<div class="t" style="left:1156.67px;top:412.10px;font-size:11px;color:#3f9d5c;">20</div>
<div class="b" style="left:1176px;top:409.3px;width:16.4px;height:16.2px;background:#fde9e7;border-radius:4px;"></div>
<div class="t" style="left:1181.20px;top:412.10px;font-size:11px;color:#e5695d;">3</div>
<div class="b" style="left:1197.40px;top:416.40px;width:1.8px;height:1.8px;border-radius:50%;background:#b3b8c2;"></div>
<div class="t" style="left:1205.10px;top:412.20px;font-size:11px;color:#656d7f;letter-spacing:0.010px;">11.04s</div>
<svg class="b" style="left:344.5px;top:449.3px;" width="6" height="3.6" viewBox="0 0 6 3.6" fill="none"><path d="M0.5 0.5 L3 3 L5.5 0.5" stroke="#c2c6ce" stroke-width="1" stroke-linecap="round" stroke-linejoin="round"/></svg>
<div class="b" style="left:357.30px;top:449.00px;width:5.2px;height:5.2px;border-radius:50%;background:#5fc27f;"></div>
<svg class="b" style="left:369.2px;top:446px;" width="11" height="10.6" viewBox="0 0 11 10.6" fill="none"><rect x="0.55" y="0.55" width="9.9" height="9.5" rx="2.8" stroke="#9ca2ae" stroke-width="1"/><text x="2.4" y="7.7" font-family="Liberation Sans" font-weight="bold" font-size="7" fill="#9ca2ae" textLength="6.2" lengthAdjust="spacingAndGlyphs">TS</text></svg>
<div class="b" style="left:387.5px;top:446.5px;width:1px;height:10.0px;background:#e3e5ea;"></div>
<div class="t" style="left:395.30px;top:446.00px;font-size:11px;color:#2e3748;letter-spacing:0.241px;-webkit-text-stroke:0.2px currentColor;">Customer Shopping</div>
<div class="t" style="left:501.30px;top:446.00px;font-size:11px;color:#8a91a0;letter-spacing:0.100px;">(16)</div>
<div class="t" style="left:1086.40px;top:446.10px;font-size:11px;color:#9aa1b0;letter-spacing:-0.465px;">Develop Env</div>
<div class="b" style="left:1148.90px;top:450.40px;width:1.8px;height:1.8px;border-radius:50%;background:#b3b8c2;"></div>
<div class="b" style="left:1160.7px;top:443.3px;width:16.4px;height:16.2px;background:#e6f5ea;border-radius:4px;"></div>
<div class="t" style="left:1162.78px;top:446.10px;font-size:11px;color:#3f9d5c;">13</div>
<div class="b" style="left:1182.4px;top:443.3px;width:16.4px;height:16.2px;background:#fde9e7;border-radius:4px;"></div>
<div class="t" style="left:1187.60px;top:446.10px;font-size:11px;color:#e5695d;">0</div>
<div class="b" style="left:1203.70px;top:450.40px;width:1.8px;height:1.8px;border-radius:50%;background:#b3b8c2;"></div>
<div class="t" style="left:1211.20px;top:446.20px;font-size:11px;color:#656d7f;letter-spacing:-0.200px;">7.96s</div>
<div class="b" style="left:369px;top:476.2px;width:47.7px;height:18.4px;background:#e7f6ec;border-radius:4px;"></div>
<div class="t" style="left:375.60px;top:481.40px;font-size:10px;color:#46a766;font-weight:bold;letter-spacing:-0.120px;">Passed</div>
<div class="t" style="left:423.90px;top:479.80px;font-size:11px;color:#2e3748;letter-spacing:0.235px;-webkit-text-stroke:0.2px currentColor;">Customer Login (Customer Login)</div>
<div class="t" style="left:604.20px;top:480.80px;font-size:10px;color:#e8742d;font-weight:bold;letter-spacing:-0.083px;">POST</div>
<div class="t" style="left:635.70px;top:479.80px;font-size:11px;color:#5d6576;letter-spacing:0.350px;">/store/auth</div>
<div class="t" style="left:1180.10px;top:480.00px;font-size:11px;color:#4cb36b;letter-spacing:0.075px;">200</div>
<div class="b" style="left:1203.80px;top:484.10px;width:1.8px;height:1.8px;border-radius:50%;background:#b3b8c2;"></div>
<div class="t" style="left:1211.30px;top:480.00px;font-size:11px;color:#656d7f;letter-spacing:-0.225px;">1.51s</div>
<div class="b" style="left:369px;top:510.29999999999995px;width:47.7px;height:18.4px;background:#e7f6ec;border-radius:4px;"></div>
<div class="t" style="left:375.60px;top:515.50px;font-size:10px;color:#46a766;font-weight:bold;letter-spacing:-0.120px;">Passed</div>
<div class="t" style="left:423.90px;top:513.90px;font-size:11px;color:#2e3748;letter-spacing:0.149px;-webkit-text-stroke:0.2px currentColor;">Check if Email Exists (Check if Email Exists)</div>
<div class="t" style="left:653.70px;top:514.90px;font-size:10px;color:#3fae62;font-weight:bold;letter-spacing:-0.500px;">GET</div>
<div class="t" style="left:677.30px;top:513.90px;font-size:11px;color:#5d6576;letter-spacing:0.314px;">/store/auth/Macie82@gmail.com</div>
<div class="t" style="left:1159.20px;top:514.10px;font-size:11px;color:#4cb36b;letter-spacing:0.025px;">200</div>
<div class="b" style="left:1182.80px;top:518.20px;width:1.8px;height:1.8px;border-radius:50%;background:#b3b8c2;"></div>
<div class="t" style="left:1189.30px;top:514.10px;font-size:11px;color:#656d7f;letter-spacing:-0.050px;">234.00ms</div>
<div class="b" style="left:369px;top:544.3px;width:47.7px;height:18.4px;background:#e7f6ec;border-radius:4px;"></div>
<div class="t" style="left:375.60px;top:549.50px;font-size:10px;color:#46a766;font-weight:bold;letter-spacing:-0.120px;">Passed</div>
<div class="t" style="left:423.90px;top:547.90px;font-size:11px;color:#2e3748;letter-spacing:0.218px;-webkit-text-stroke:0.2px currentColor;">Add a Shipping Address (Add a Shipping Address)</div>
<div class="t" style="left:687.50px;top:548.90px;font-size:10px;color:#e8742d;font-weight:bold;letter-spacing:-0.083px;">POST</div>
<div class="t" style="left:718.20px;top:547.90px;font-size:11px;color:#5d6576;letter-spacing:0.332px;">/store/customers/me/addresses</div>
<div class="t" style="left:1159.20px;top:548.10px;font-size:11px;color:#4cb36b;letter-spacing:0.025px;">200</div>
<div class="b" style="left:1182.80px;top:552.20px;width:1.8px;height:1.8px;border-radius:50%;background:#b3b8c2;"></div>
<div class="t" style="left:1189.30px;top:548.10px;font-size:11px;color:#656d7f;letter-spacing:-0.050px;">134.00ms</div>
<svg class="b" style="left:357.3px;top:585.5px;" width="6" height="3.6" viewBox="0 0 6 3.6" fill="none"><path d="M0.5 0.5 L3 3 L5.5 0.5" stroke="#c2c6ce" stroke-width="1" stroke-linecap="round" stroke-linejoin="round"/></svg>
<div class="b" style="left:370.60px;top:585.00px;width:5.2px;height:5.2px;border-radius:50%;background:#5fc27f;"></div>
<svg class="b" style="left:383.8px;top:582px;" width="9.5" height="11" viewBox="0 0 9.5 11" fill="none"><path d="M7.7 1.2 V3.2 C7.7 5.4 5.6 6.5 1.3 6.5 M3.2 4.6 L1.2 6.5 L3.2 8.4 M7.7 6.8 V10.4" stroke="#9ca2ae" stroke-width="1.05" stroke-linecap="round" stroke-linejoin="round"/></svg>
<div class="b" style="left:400.6px;top:582.5px;width:1px;height:10.0px;background:#e3e5ea;"></div>
<div class="t" style="left:408.10px;top:582.10px;font-size:11px;color:#2e3748;letter-spacing:0.240px;-webkit-text-stroke:0.2px currentColor;">If {{country_code}} Does not equal US</div>
<div class="t" style="left:606.80px;top:582.10px;font-size:11px;color:#8a91a0;letter-spacing:-0.150px;">(0)</div>
<div class="b" style="left:1151.8px;top:579.3px;width:16.4px;height:16.2px;background:#e6f5ea;border-radius:4px;"></div>
<div class="t" style="left:1157.00px;top:582.10px;font-size:11px;color:#3f9d5c;">0</div>
<div class="b" style="left:1173.9px;top:579.3px;width:16.4px;height:16.2px;background:#fde9e7;border-radius:4px;"></div>
<div class="t" style="left:1179.10px;top:582.10px;font-size:11px;color:#e5695d;">0</div>
<div class="b" style="left:1195.00px;top:586.50px;width:1.8px;height:1.8px;border-radius:50%;background:#b3b8c2;"></div>
<div class="t" style="left:1202.10px;top:582.20px;font-size:11px;color:#656d7f;letter-spacing:-0.140px;">0.00ms</div>
<svg class="b" style="left:358.6px;top:618.5px;" width="3.6" height="6" viewBox="0 0 3.6 6" fill="none"><path d="M0.5 0.5 L3 3 L0.5 5.5" stroke="#c2c6ce" stroke-width="1" stroke-linecap="round" stroke-linejoin="round"/></svg>
<div class="b" style="left:370.60px;top:619.00px;width:5.2px;height:5.2px;border-radius:50%;background:#5fc27f;"></div>
<svg class="b" style="left:382.6px;top:615.8px;" width="11" height="11" viewBox="0 0 11 11" fill="none"><rect x="0.55" y="0.55" width="9.9" height="9.9" rx="1.8" stroke="#9ca2ae" stroke-width="1"/><path d="M0.6 3.8 H10.4" stroke="#9ca2ae" stroke-width="1"/></svg>
<div class="b" style="left:400.6px;top:616.5px;width:1px;height:10.0px;background:#e3e5ea;"></div>
<div class="t" style="left:408.10px;top:616.00px;font-size:11px;color:#2e3748;letter-spacing:0.274px;-webkit-text-stroke:0.2px currentColor;">Create a shopping cart</div>
<div class="t" style="left:529.20px;top:616.00px;font-size:11px;color:#8a91a0;letter-spacing:0.200px;">(2)</div>
<div class="b" style="left:1160.7px;top:613.3px;width:16.4px;height:16.2px;background:#e6f5ea;border-radius:4px;"></div>
<div class="t" style="left:1165.90px;top:616.10px;font-size:11px;color:#3f9d5c;">2</div>
<div class="b" style="left:1182.4px;top:613.3px;width:16.4px;height:16.2px;background:#fde9e7;border-radius:4px;"></div>
<div class="t" style="left:1187.60px;top:616.10px;font-size:11px;color:#e5695d;">0</div>
<div class="b" style="left:1203.70px;top:620.50px;width:1.8px;height:1.8px;border-radius:50%;background:#b3b8c2;"></div>
<div class="t" style="left:1211.20px;top:616.20px;font-size:11px;color:#656d7f;letter-spacing:-0.200px;">1.21s</div>
<div class="b" style="left:369px;top:646.8px;width:47.7px;height:18.4px;background:#e7f6ec;border-radius:4px;"></div>
<div class="t" style="left:375.60px;top:652.00px;font-size:10px;color:#46a766;font-weight:bold;letter-spacing:-0.120px;">Passed</div>
<div class="t" style="left:423.90px;top:650.40px;font-size:11px;color:#2e3748;letter-spacing:0.181px;-webkit-text-stroke:0.2px currentColor;">Get Product Vari...</div>
<div class="t" style="left:528.80px;top:651.40px;font-size:10px;color:#3fae62;font-weight:bold;letter-spacing:-0.300px;">GET</div>
<div class="t" style="left:552.50px;top:650.40px;font-size:11px;color:#5d6576;letter-spacing:0.473px;">/store/variants?id=f534596b-436d-4a1d-b4f0-95d7c2b6307b&amp;sales_channel_id=Zk8s_VP8JlgtwznKj06Ld&amp;fie...</div>
<div class="t" style="left:1165.40px;top:650.60px;font-size:11px;color:#4cb36b;letter-spacing:0.075px;">200</div>
<div class="b" style="left:1188.50px;top:654.70px;width:1.8px;height:1.8px;border-radius:50%;background:#b3b8c2;"></div>
<div class="t" style="left:1195.90px;top:650.60px;font-size:11px;color:#656d7f;letter-spacing:-0.125px;">57.00ms</div>
<div class="b" style="left:369px;top:681.1999999999999px;width:47.7px;height:18.4px;background:#e7f6ec;border-radius:4px;"></div>
<div class="t" style="left:375.60px;top:686.40px;font-size:10px;color:#46a766;font-weight:bold;letter-spacing:-0.120px;">Passed</div>
<svg class="b" style="left:425.6px;top:683px;" width="11" height="11" viewBox="0 0 11 11" fill="none"><circle cx="5.5" cy="5.5" r="4.9" stroke="#9ca2ae" stroke-width="1"/><path d="M5.5 2.8 V5.7 H7.6" stroke="#9ca2ae" stroke-width="1" stroke-linecap="round" stroke-linejoin="round"/></svg>
<div class="b" style="left:443.7px;top:684px;width:1px;height:10px;background:#e3e5ea;"></div>
<div class="t" style="left:451.20px;top:684.90px;font-size:11px;color:#2e3748;letter-spacing:0.357px;-webkit-text-stroke:0.2px currentColor;">Wait for 2000 ms</div>
<div class="t" style="left:1211.30px;top:685.00px;font-size:11px;color:#656d7f;letter-spacing:-0.225px;">2.00s</div>
<div class="b" style="left:313px;top:697px;width:947px;height:30px;background:#fff;border-top:1px solid #eff1f4;border-bottom-right-radius:8px;"></div>
<svg class="b" style="left:327.2px;top:708px;" width="10" height="8" viewBox="0 0 10 8" fill="none"><path d="M0.8 0.3 V7.7" stroke="#2b3445" stroke-width="1.3"/><path d="M9.6 4 H3.2 M5.8 1.3 L3 4 L5.8 6.7" stroke="#2b3445" stroke-width="1.3" stroke-linecap="round" stroke-linejoin="round"/></svg>
<svg class="b" style="left:822.6px;top:706.8px;" width="9.6" height="9.6" viewBox="0 0 9.6 9.6" fill="none"><circle cx="4.8" cy="4.8" r="4.2" stroke="#3a4252" stroke-width="1"/><path d="M2.9 4.9 L4.2 6.2 L6.8 3.5" stroke="#3a4252" stroke-width="1" stroke-linecap="round" stroke-linejoin="round"/></svg>
<div class="t" style="left:836.00px;top:707.10px;font-size:10.5px;color:#3f4757;letter-spacing:-0.030px;-webkit-text-stroke:0.35px currentColor;">Online</div>
<svg class="b" style="left:886.8px;top:706.5px;" width="10.6" height="10.5" viewBox="0 0 10.6 10.5" fill="none"><rect x="2.6" y="0.5" width="5.4" height="3.4" rx="0.6" stroke="#3a4252" stroke-width="1"/><path d="M5.3 3.9 V6 M1.2 10.2 V6 H9.4 V10.2 M5.3 6 V10.2" stroke="#3a4252" stroke-width="1"/></svg>
<div class="t" style="left:901.70px;top:707.10px;font-size:10.5px;color:#3f4757;letter-spacing:-0.005px;-webkit-text-stroke:0.35px currentColor;">System Proxy</div>
<svg class="b" style="left:972.6px;top:709.6px;" width="7.4" height="4.4" viewBox="0 0 7.4 4.4" fill="none"><path d="M0.6 0.6 L3.7 3.7 L6.8 0.6" stroke="#3a4252" stroke-width="1.1" stroke-linecap="round" stroke-linejoin="round"/></svg>
<svg class="b" style="left:1002.8px;top:706.6px;" width="9.8" height="9.8" viewBox="0 0 9.8 9.8" fill="none"><path d="M4.9 0.5 A4.4 4.4 0 1 0 9.3 5.2 A2 2 0 0 1 6.6 3 A1.8 1.8 0 0 1 4.9 0.5 Z" stroke="#3a4252" stroke-width="1" stroke-linejoin="round"/><circle cx="3.3" cy="4.3" r="0.6" fill="#3a4252"/><circle cx="4.6" cy="7" r="0.6" fill="#3a4252"/><circle cx="7" cy="6.8" r="0.5" fill="#3a4252"/></svg>
<div class="t" style="left:1016.70px;top:707.10px;font-size:10.5px;color:#3f4757;letter-spacing:0.083px;-webkit-text-stroke:0.35px currentColor;">Cookies</div>
<svg class="b" style="left:1076px;top:706.5px;" width="8.4" height="10" viewBox="0 0 8.4 10" fill="none"><path d="M0.4 2.2 H8 M3 2.2 V0.6 H5.4 V2.2 M1.3 2.2 L1.9 9.4 H6.5 L7.1 2.2" stroke="#3a4252" stroke-width="1" stroke-linejoin="round"/></svg>
<div class="t" style="left:1089.00px;top:707.10px;font-size:10.5px;color:#3f4757;letter-spacing:-0.100px;-webkit-text-stroke:0.35px currentColor;">Trash</div>
<svg class="b" style="left:1135.8px;top:707.8px;" width="10.6" height="8.2" viewBox="0 0 10.6 8.2" fill="none"><path d="M2.2 0.9 C3.2 0.4 4 0.2 4.2 0.2 L4.5 0.8 C5 0.7 5.6 0.7 6.1 0.8 L6.4 0.2 C6.6 0.2 7.4 0.4 8.4 0.9 C9.8 3 10.3 5 10.1 7 C9.2 7.7 8.3 8 7.6 8.1 L7 7.2 C7.4 7 7.7 6.8 8 6.6 C6.2 7.5 4.4 7.5 2.6 6.6 C2.9 6.8 3.2 7 3.6 7.2 L3 8.1 C2.3 8 1.4 7.7 0.5 7 C0.3 5 0.8 3 2.2 0.9 Z" fill="#5865f2"/><ellipse cx="3.7" cy="4.7" rx="0.9" ry="1" fill="#fff"/><ellipse cx="6.9" cy="4.7" rx="0.9" ry="1" fill="#fff"/></svg>
<svg class="b" style="left:1148.8px;top:707px;" width="9.6" height="9.6" viewBox="0 0 9.6 9.6" fill="none"><rect x="0" y="2.6" width="5.4" height="1.9" rx="0.95" fill="#36c5f0"/><rect x="5.2" y="0" width="1.9" height="5.4" rx="0.95" fill="#2eb67d"/><rect x="2.5" y="4.2" width="1.9" height="5.4" rx="0.95" fill="#e01e5a"/><rect x="4.2" y="5.1" width="5.4" height="1.9" rx="0.95" fill="#ecb22e"/></svg>
<div class="t" style="left:1161.70px;top:707.10px;font-size:10.5px;color:#3f4757;letter-spacing:0.223px;-webkit-text-stroke:0.35px currentColor;">Help &amp; support</div>
</div>
</body></html>
